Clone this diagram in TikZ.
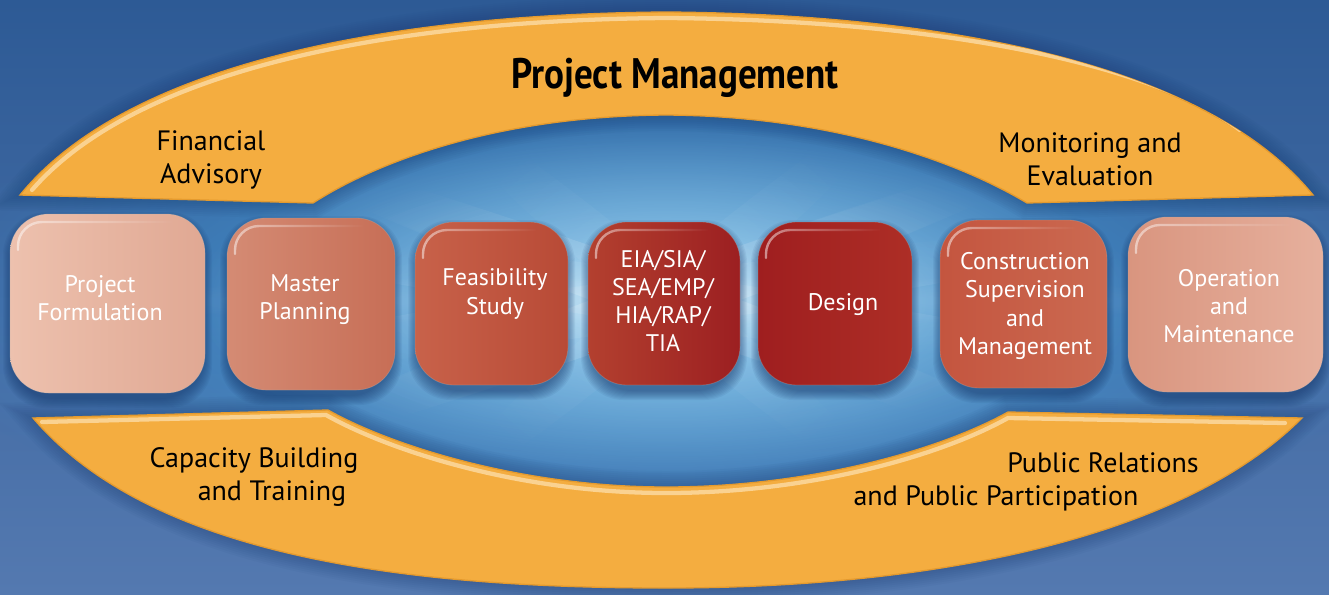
\documentclass[tikz,border=0pt]{standalone}
\usepackage{fontspec}
\setmainfont{PT Sans}
\newfontfamily\titlefont[FakeStretch=0.87]{PT Sans}
\usetikzlibrary{fadings}

\definecolor{bgtop}{HTML}{2D5A95}
\definecolor{bgmid}{HTML}{6E9DCE}
\definecolor{bgbot}{HTML}{5479B0}
\definecolor{glowcyan}{HTML}{3F9FDC}
\definecolor{glowlight}{HTML}{BFE3F6}
\definecolor{bandfill}{HTML}{F4AD40}
\definecolor{bandedge}{HTML}{E49A2E}
\definecolor{bandhl}{HTML}{FCD9A0}
\definecolor{shadowblue}{HTML}{16376B}

\tikzfading[name=glowfade, inner color=transparent!0, outer color=transparent!100]

\tikzset{
  band/.style={fill=bandfill, draw=bandedge, line width=1},
  bandlight/.style={draw=bandhl, line width=3.2, line cap=round},
  gbox/.style={rectangle, rounded corners=29pt, draw=black!30, draw opacity=0.3, line width=0.6pt},
  gloss/.style={draw=white, line width=1.8pt, line cap=round, opacity=0.5, path fading=east},
  boxtext/.style={text=white, align=center, font=\fontsize{18}{21.2}\selectfont},
  bandtext/.style={text=black, anchor=base, font=\fontsize{21}{25}\selectfont},
}

% glossy rounded box: name, cx, cy, width, height, left colour, right colour (hex)
\newcommand\glossybox[7]{%
  \definecolor{gbleft}{HTML}{#6}%
  \definecolor{gbright}{HTML}{#7}%
  \foreach \s in {1,...,10} {
    \fill[shadowblue, opacity=0.07, rounded corners=32pt]
      (#2-#4/2-\s+3, #3-#5/2-\s+8) rectangle (#2+#4/2+\s-3, #3+#5/2+\s+5);
  }
  \node[gbox, minimum width=#4*0.75pt, minimum height=#5*0.75pt,
        left color=gbleft, right color=gbright] (#1) at (#2,#3) {};
  \draw[gloss, rounded corners=18pt]
    (#2-#4/2+8, #3-#5/2+36) -- (#2-#4/2+8, #3-#5/2+8) -- (#2+#4/2-32, #3-#5/2+8);
}

% outlines of the two bands
\def\upperband{(20,195) .. controls (130,60) and (400,14) .. (666,12)
   .. controls (932,14) and (1203,60) .. (1313,195)
   -- (1027,203) .. controls (955,160) and (830,116) .. (666,115)
   .. controls (500,116) and (380,160) .. (313,203) -- cycle}
\def\lowerband{(33,418) -- (328,410) .. controls (390,445) and (520,487) .. (666,487)
   .. controls (810,487) and (940,450) .. (1008,412) -- (1302,418)
   .. controls (1180,540) and (930,588) .. (666,588)
   .. controls (400,588) and (150,555) .. (33,418) -- cycle}

\begin{document}
\begin{tikzpicture}[x=0.75pt, y=-0.75pt]
\useasboundingbox (0,0) rectangle (1329,594);

% backdrop
\fill[top color=bgtop, middle color=bgmid, bottom color=bgbot] (0,0) rectangle (1329,594);
\fill[glowcyan, path fading=glowfade] (666,305) ellipse [x radius=760, y radius=260];
\fill[glowlight, path fading=glowfade, opacity=0.8] (666,300) ellipse [x radius=470, y radius=175];
% light streaks through the centre
\foreach \a/\r/\o in {0/560/0.16, 8/480/0.14, -8/480/0.14, 20/430/0.14, -20/430/0.14,
                      160/400/0.1, 200/400/0.1, 40/300/0.08, -40/300/0.08} {
  \fill[white, opacity=\o, path fading=glowfade, rotate around={\a:(666,300)}]
    (666,300) ellipse [x radius=\r, y radius=26];
}

% soft shadows under the bands
\foreach \w in {3,6,...,24} {
  \draw[shadowblue, opacity=0.045, line width=\w] \upperband;
  \draw[shadowblue, opacity=0.045, line width=\w] \lowerband;
}

% upper band
\begin{scope}
  \path[band] \upperband;
  \clip \upperband;
  \draw[bandlight, opacity=0.85] (32,190) .. controls (140,66) and (400,20) .. (666,18)
              .. controls (932,20) and (1150,62) .. (1240,130);
\end{scope}

% lower band
\begin{scope}
  \path[band] \lowerband;
  \clip \lowerband;
  \draw[bandlight, opacity=0.85] (42,422) -- (326,415) .. controls (390,451) and (520,493) .. (666,493)
              .. controls (810,493) and (940,456) .. (1008,418) -- (1285,423);
\end{scope}

% band captions
\node[bandtext, font=\titlefont\bfseries\fontsize{32}{36}\selectfont] (pm) at (675,88) {Project Management};
\node[bandtext] (fa1) at (211,150) {Financial};
\node[bandtext] (fa2) at (211,183) {Advisory};
\node[bandtext] (me1) at (1090,152) {Monitoring and};
\node[bandtext] (me2) at (1090,185) {Evaluation};
\node[bandtext] (cb1) at (254,467) {Capacity Building};
\node[bandtext] (cb2) at (272,500) {and Training};
\node[bandtext] (pr1) at (1103,472) {Public Relations};
\node[bandtext] (pr2) at (996,505) {and Public Participation};

% process steps
\glossybox{b1}{107.5}{303.5}{195}{179}{EDC1AE}{E0A893}
\glossybox{b2}{311}{304}{168}{172}{D48B74}{C76E56}
\glossybox{b3}{491.5}{303.5}{153}{163}{C8624A}{B84A36}
\glossybox{b4}{664}{303.5}{152}{163}{B3402F}{9C1F21}
\glossybox{b5}{835}{303.5}{154}{163}{9F1E1F}{AD2E26}
\glossybox{b6}{1023.5}{304}{167}{168}{C4553F}{CB6A51}
\glossybox{b7}{1225.5}{304.5}{195}{175}{D9957F}{E6B09D}

\node[boxtext] (t1) at (100,298) {Project\\Formulation};
\node[boxtext] (t2) at (305,300) {Master\\Planning};
\node[boxtext] (t3) at (495,294) {Feasibility\\Study};
\node[boxtext] (t4) at (663,301) {EIA/SIA/\\SEA/EMP/\\HIA/RAP/\\TIA};
\node[boxtext] (t5) at (843,305) {Design};
\node[boxtext] (t6) at (1025,306) {Construction\\Supervision\\and\\Management};
\node[boxtext] (t7) at (1229,306) {Operation\\and\\Maintenance};
\end{tikzpicture}
\end{document}
